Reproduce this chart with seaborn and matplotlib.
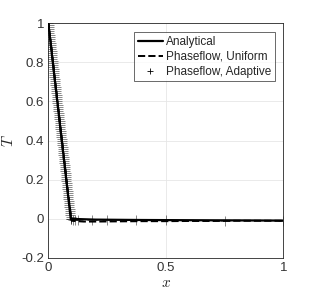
import numpy as np
import pandas as pd
import matplotlib
matplotlib.use("Agg")
import matplotlib.pyplot as plt
import seaborn as sns

# analytical solution (melt front near x ~ 0.095)
x_analytical = [0.0, 0.0955, 0.2, 0.4, 0.6, 0.8, 1.0]
T_analytical = [1.0, 0.0, -0.004, -0.006, -0.007, -0.008, -0.009]

# uniform mesh result
x_uniform = [0.0, 0.02, 0.04, 0.06, 0.08, 0.1, 0.15, 0.2, 0.3, 0.4, 0.5, 0.6, 0.7, 0.8, 0.9, 1.0]
T_uniform = [1.0, 0.79, 0.58, 0.37, 0.16, -0.01, -0.014, -0.014, -0.013, -0.012, -0.012, -0.011, -0.011, -0.01, -0.01, -0.01]

# adaptive mesh nodes (coarser level)
x_adaptive = [0.0, 0.00195, 0.00391, 0.00586, 0.00781, 0.00977, 0.01172, 0.01367, 0.01563, 0.01758,
              0.01953, 0.02148, 0.02344, 0.02539, 0.02734, 0.02930, 0.03125, 0.03320, 0.03516, 0.03711,
              0.03906, 0.04102, 0.04297, 0.04492, 0.04688, 0.04883, 0.05078, 0.05273, 0.05469, 0.05664,
              0.05859, 0.06055, 0.06250, 0.06445, 0.06641, 0.06836, 0.07031, 0.07227, 0.07422, 0.07617,
              0.07813, 0.08008, 0.08203, 0.08398, 0.08594, 0.08789, 0.08984, 0.09180, 0.09375, 0.09570,
              0.09766, 0.10547, 0.11328, 0.125, 0.1875, 0.25, 0.375, 0.5, 0.75, 1.0]
T_adaptive = [1.000, 0.980, 0.959, 0.939, 0.918, 0.898, 0.877, 0.857, 0.836, 0.816,
              0.796, 0.775, 0.755, 0.734, 0.714, 0.693, 0.673, 0.652, 0.632, 0.611,
              0.591, 0.571, 0.550, 0.530, 0.509, 0.489, 0.468, 0.448, 0.427, 0.407,
              0.387, 0.366, 0.346, 0.325, 0.305, 0.284, 0.264, 0.243, 0.223, 0.202,
              0.182, 0.162, 0.141, 0.121, 0.100, 0.080, 0.059, 0.039, 0.018, 0.000,
              -0.002, -0.005, -0.006, -0.007, -0.008, -0.008, -0.008, -0.008, -0.009, -0.010]

# adaptive mesh nodes (refined level inside the mushy region)
x_refined = [0.00098, 0.00293, 0.00488, 0.00684, 0.00879, 0.01074, 0.01270, 0.01465, 0.01660, 0.01855,
             0.02051, 0.02246, 0.02441, 0.02637, 0.02832, 0.03027, 0.03223, 0.03418, 0.03613, 0.03809,
             0.04004, 0.04199, 0.04395, 0.04590, 0.04785, 0.04980, 0.05176, 0.05371, 0.05566, 0.05762,
             0.05957, 0.06152, 0.06348, 0.06543, 0.06738, 0.06934, 0.07129, 0.07324, 0.07520, 0.07715,
             0.07910, 0.08105, 0.08301, 0.08496, 0.08691, 0.08887, 0.09082, 0.09277, 0.09473]
T_refined = [0.990, 0.969, 0.949, 0.928, 0.908, 0.887, 0.867, 0.846, 0.826, 0.806,
             0.785, 0.765, 0.744, 0.724, 0.703, 0.683, 0.662, 0.642, 0.621, 0.601,
             0.581, 0.560, 0.540, 0.519, 0.499, 0.478, 0.458, 0.437, 0.417, 0.397,
             0.376, 0.356, 0.335, 0.315, 0.294, 0.274, 0.253, 0.233, 0.212, 0.192,
             0.172, 0.151, 0.131, 0.110, 0.090, 0.069, 0.049, 0.028, 0.008]

x_ticks = [0, 0.5, 1]
x_tick_labels = ["0", "0.5", "1"]
y_ticks = [-0.2, 0, 0.2, 0.4, 0.6, 0.8, 1]
y_tick_labels = ["-0.2", "0", "0.2", "0.4", "0.6", "0.8", "1"]

sns.set_theme(style="white")
plt.rcParams['font.family'] = ['Liberation Sans', 'DejaVu Sans']
plt.rcParams['mathtext.fontset'] = 'cm'

fig = plt.figure(figsize=(3.13, 3.0), dpi=100)
ax = fig.add_axes([0.1543, 0.14, 0.7508, 0.7833])

df_a = pd.DataFrame({"x": x_analytical, "T": T_analytical})
df_u = pd.DataFrame({"x": x_uniform, "T": T_uniform})
df_ad = pd.DataFrame({"x": x_adaptive + x_refined, "T": T_adaptive + T_refined})

sns.lineplot(data=df_a, x="x", y="T", ax=ax, color="black", linewidth=1.6,
             sort=False, label="Analytical", zorder=3)
sns.lineplot(data=df_u, x="x", y="T", ax=ax, color="black", linewidth=1.4,
             linestyle="--", sort=False, label="Phaseflow, Uniform", zorder=2)
ax.plot(df_ad["x"], df_ad["T"], linestyle="none", marker="+", markersize=6.5,
        markeredgewidth=0.6, color="black", alpha=0.55, label="Phaseflow, Adaptive", zorder=1)

ax.set_xlim(0, 1)
ax.set_ylim(-0.2, 1)
ax.set_xticks(x_ticks)
ax.set_xticklabels(x_tick_labels)
ax.set_yticks(y_ticks)
ax.set_yticklabels(y_tick_labels)
ax.tick_params(axis="both", direction="in", length=3, width=0.6, colors="#262626",
               labelsize=9.5, labelcolor="#333333", pad=3)
ax.grid(True, color="#e6e6e6", linewidth=0.6)
for s in ax.spines.values():
    s.set_color("#262626")
    s.set_linewidth(0.6)
ax.set_xlabel("$x$", fontsize=11, labelpad=1)
ax.set_ylabel("$T$", fontsize=11, labelpad=4)

leg = ax.legend(loc="upper right", bbox_to_anchor=(0.965, 0.96), fontsize=8.5, frameon=True,
                fancybox=False, edgecolor="#262626", handlelength=2.1, handletextpad=0.3,
                borderpad=0.3, labelspacing=0.25, borderaxespad=0)
leg.get_frame().set_linewidth(0.6)
for h in leg.legend_handles:
    h.set_alpha(1)
leg.legend_handles[2].set_markersize(4.5)

fig.savefig("out.png", dpi=100)
